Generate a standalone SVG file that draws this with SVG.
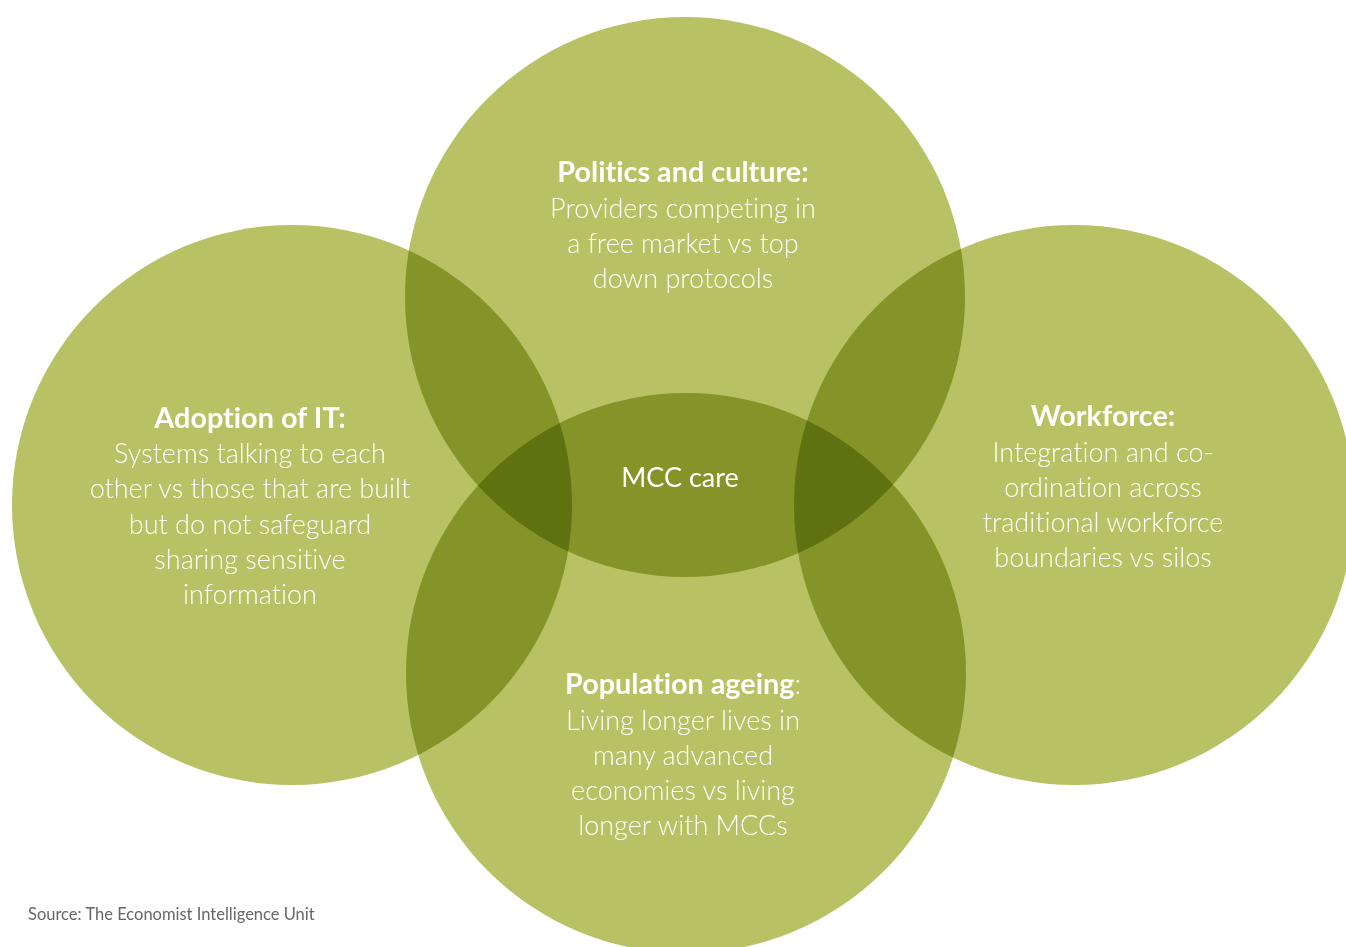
<svg xmlns="http://www.w3.org/2000/svg" width="1346" height="947" viewBox="0 0 1346 947">
<style>
.c{fill:#b8c264;mix-blend-mode:multiply}
.t{font-family:Lato,"Open Sans","Liberation Sans",sans-serif;font-size:27px;font-weight:300;fill:#ffffff;text-anchor:middle;font-variant-ligatures:none}
.b{font-weight:700;font-size:28.8px}
.s{font-family:Lato,"Open Sans","Liberation Sans",sans-serif;font-size:16.5px;fill:#666666;font-variant-ligatures:none}
</style>
<rect width="1346" height="947" fill="#ffffff"/>
<g id="circles" style="isolation:isolate">
<circle id="c-top" class="c" cx="685" cy="297" r="280"/>
<circle id="c-left" class="c" cx="292" cy="505" r="280"/>
<circle id="c-right" class="c" cx="1074" cy="505" r="280"/>
<circle id="c-bottom" class="c" cx="686" cy="673" r="280"/>
</g>
<g id="connectors"/>
<g id="node-top">
<text class="t" x="683" y="182"><tspan class="b">Politics and culture:</tspan></text>
<text class="t" x="683" y="218">Providers competing in</text>
<text class="t" x="683" y="253">a free market vs top</text>
<text class="t" x="683" y="288">down protocols</text>
</g>
<g id="node-left">
<text class="t" x="250" y="428"><tspan class="b">Adoption of IT:</tspan></text>
<text class="t" x="250" y="463">Systems talking to each</text>
<text class="t" x="250" y="498">other vs those that are built</text>
<text class="t" x="250" y="534">but do not safeguard</text>
<text class="t" x="250" y="569">sharing sensitive</text>
<text class="t" x="250" y="604">information</text>
</g>
<g id="node-right">
<text class="t" x="1103" y="426"><tspan class="b">Workforce:</tspan></text>
<text class="t" x="1103" y="462">Integration and co-</text>
<text class="t" x="1103" y="497">ordination across</text>
<text class="t" x="1103" y="532">traditional workforce</text>
<text class="t" x="1103" y="567">boundaries vs silos</text>
</g>
<g id="node-bottom">
<text class="t" x="683" y="694"><tspan class="b">Population ageing</tspan>:</text>
<text class="t" x="683" y="730">Living longer lives in</text>
<text class="t" x="683" y="765">many advanced</text>
<text class="t" x="683" y="800">economies vs living</text>
<text class="t" x="683" y="835">longer with MCCs</text>
</g>
<g id="node-center">
<text class="t" x="680" y="487" style="font-weight:400">MCC care</text>
</g>
<text class="s" x="28" y="920">Source: The Economist Intelligence Unit</text>
</svg>
